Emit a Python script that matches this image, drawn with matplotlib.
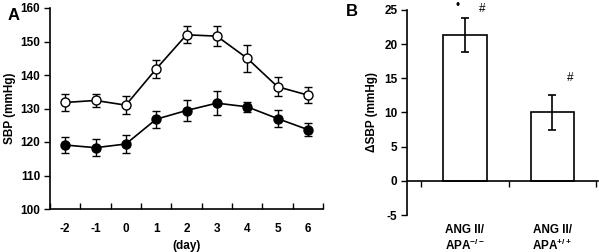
import matplotlib
matplotlib.use("Agg")
import matplotlib.pyplot as plt

plt.rcParams['font.family'] = ['Liberation Sans', 'DejaVu Sans']
plt.rcParams['mathtext.fontset'] = 'custom'
plt.rcParams['mathtext.rm'] = 'Liberation Sans:bold'
plt.rcParams['mathtext.it'] = 'Liberation Sans:bold'
plt.rcParams['mathtext.bf'] = 'Liberation Sans:bold'
plt.rcParams['axes.unicode_minus'] = False

# Panel A data
days = [-2, -1, 0, 1, 2, 3, 4, 5, 6]
open_vals = [131.8, 132.4, 131.0, 141.8, 152.0, 151.6, 145.0, 136.5, 134.0]
open_err = [2.5, 2.0, 2.6, 2.6, 2.5, 3.0, 4.0, 2.8, 2.4]
filled_vals = [119.1, 118.3, 119.4, 126.8, 129.4, 131.6, 130.5, 127.0, 123.7]
filled_err = [2.4, 2.5, 2.7, 2.5, 3.0, 3.6, 1.5, 2.5, 2.0]
a_yticks = [100, 110, 120, 130, 140, 150, 160]

# Panel B data
b_line1 = ['ANG II/', 'ANG II/']
b_line2 = ['APA$^{-/-}$', 'APA$^{+/+}$']
b_vals = [21.4, 10.0]
b_err = [2.5, 2.5]
b_yticks = [-5, 0, 5, 10, 15, 20, 25]

W, H = 599, 252
fig = plt.figure(figsize=(W/100, H/100), dpi=100)
fs = 8.5

# ---- Panel A ----
axA = fig.add_axes([50/W, 1-209/H, (323-50)/W, (209-8)/H])
axA.errorbar(days, filled_vals, yerr=filled_err, fmt='-o', color='black',
             mfc='black', mec='black', ms=6.5, lw=1.2, elinewidth=1.0, capsize=3, capthick=1.0, zorder=2)
axA.errorbar(days, open_vals, yerr=open_err, fmt='-o', color='black',
             mfc='white', mec='black', ms=6.5, mew=1.0, lw=1.2, elinewidth=1.0, capsize=3, capthick=1.0, zorder=3)
axA.set_xlim(-2.5, 6.5)
axA.set_ylim(100, 160)
axA.set_yticks(a_yticks)
axA.set_xticks([d + 0.5 for d in [-3] + days])
axA.set_xticklabels([])
axA.set_xticks(days, minor=True)
axA.set_xticklabels([str(d) for d in days], minor=True)
axA.tick_params(axis='x', which='minor', length=0, pad=10, labelsize=fs)
axA.tick_params(axis='x', which='major', length=4, width=1.0, direction='in')
axA.tick_params(axis='y', length=4, width=1.0, direction='out', labelsize=fs, pad=3)
for lab in axA.get_xticklabels(minor=True) + axA.get_yticklabels():
    lab.set_fontweight('bold')
axA.spines['top'].set_visible(False)
axA.spines['right'].set_visible(False)
axA.spines['left'].set_linewidth(1.2)
axA.spines['bottom'].set_linewidth(1.2)
axA.set_xlabel('(day)', fontsize=fs, fontweight='bold', labelpad=4)
axA.set_ylabel('SBP (mmHg)', fontsize=fs, fontweight='bold', labelpad=3)
fig.text(8/W, 1-15/H, 'A', fontsize=12, fontweight='bold', ha='left', va='center')

# ---- Panel B ----
axB = fig.add_axes([407/W, 1-215/H, (598-407)/W, (215-10)/H])
xpos = [0, 1]
axB.bar(xpos, b_vals, width=0.5, color='white', edgecolor='black', linewidth=1.2, zorder=2)
axB.errorbar(xpos, b_vals, yerr=b_err, fmt='none', ecolor='black', elinewidth=1.2,
             capsize=3, capthick=1.2, zorder=3)
axB.set_xlim(-0.66, 1.52)
axB.set_ylim(-5, 25)
axB.set_yticks(b_yticks)
axB.set_xticks([-0.5, 0.5, 1.5])
axB.set_xticklabels([])
axB.spines['top'].set_visible(False)
axB.spines['right'].set_visible(False)
axB.spines['bottom'].set_position(('data', 0))
axB.spines['left'].set_linewidth(1.2)
axB.spines['bottom'].set_linewidth(1.2)
axB.tick_params(axis='x', length=4, width=1.0, direction='out')
axB.tick_params(axis='y', length=4, width=1.0, direction='out', labelsize=fs, pad=3)
for lab in axB.get_yticklabels():
    lab.set_fontweight('bold')
axB.set_ylabel('ΔSBP (mmHg)', fontsize=fs, fontweight='bold', labelpad=4)
for x, l1, l2 in zip(xpos, b_line1, b_line2):
    xf = fig.transFigure.inverted().transform(axB.transData.transform((x, 0)))[0]
    fig.text(xf, 1-230/H, l1, ha='center', va='center', fontsize=fs, fontweight='bold')
    fig.text(xf, 1-245/H, l2, ha='center', va='center', fontsize=fs, fontweight='bold')
axB.text(-0.08, 25.6, '•', ha='center', va='center', fontsize=fs)
axB.text(0.2, 25.2, '#', ha='center', va='center', fontsize=fs)
axB.text(1.2, 15.0, '#', ha='center', va='center', fontsize=fs)
fig.text(352/W, 1-11/H, 'B', fontsize=12, fontweight='bold', ha='center', va='center')

fig.savefig('out.png', dpi=100)
